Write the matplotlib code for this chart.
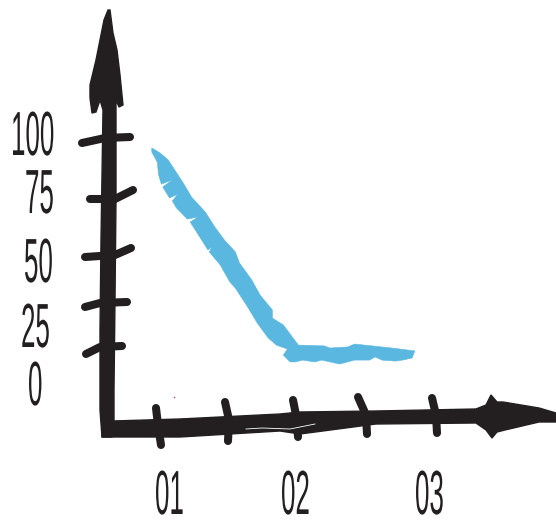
# hand drawn line chart, sketchy axes and stretched narrow labels
import matplotlib
matplotlib.use('Agg')
import matplotlib.pyplot as plt
import matplotlib.patheffects as pe
from matplotlib.transforms import Affine2D

INK = '#231f20'
BLUE = '#5ab8e0'

# ===== DATA =====
y_labels = ['100', '75', '50', '25', '0']
x_labels = ['01', '02', '03']

upper_x = [0.94, 1.00, 1.06, 1.17, 1.23, 1.33, 1.40, 1.47, 1.55, 1.58, 1.67,
           1.73, 1.82, 1.82, 1.90, 2.01, 2.20, 2.24, 2.37, 2.42, 2.69, 2.86]
upper_y = [96.2, 93.8, 90.4, 79.3, 72.6, 65.4, 58.2, 51.9, 46.2, 40.9, 32.7,
           25.5, 18.3, 14.4, 11.1, 1.4, 1.0, 0.0, 0.5, 1.9, 0.0, -1.4]
lower_x = [0.94, 0.98, 0.99, 1.01, 1.09, 1.02, 1.07, 1.13, 1.09, 1.12, 1.20, 1.28,
           1.22, 1.29, 1.35, 1.38, 1.36, 1.39, 1.44, 1.51, 1.55, 1.64, 1.71, 1.79,
           1.85, 1.93, 1.90, 1.95, 1.99, 2.04, 2.13, 2.18, 2.31, 2.42, 2.53, 2.57,
           2.62, 2.72, 2.77, 2.84]
lower_y = [94.2, 89.4, 83.2, 78.8, 80.8, 77.4, 72.1, 74.0, 70.7, 67.3, 62.0, 63.0,
           60.6, 53.4, 47.1, 48.6, 46.2, 43.8, 39.9, 31.7, 28.8, 19.7, 12.0, 4.8,
           1.4, -0.5, -3.4, -6.7, -6.7, -5.8, -6.7, -5.8, -7.7, -5.8, -5.8, -4.3,
           -5.8, -6.3, -5.8, -4.8]


class Stretch(pe.AbstractPathEffect):
    """Scale the glyph outlines so the text looks tall and condensed"""
    def __init__(self, sx, sy):
        super().__init__()
        self.sx, self.sy = sx, sy

    def draw_path(self, renderer, gc, tpath, affine, rgbFace=None):
        renderer.draw_path(gc, tpath, Affine2D().scale(self.sx, self.sy) + affine, rgbFace)


fig = plt.figure(figsize=(5.56, 5.2), dpi=100)
ax = fig.add_axes([0, 0, 1, 1])
ax.set_xlim(-0.1679, 3.8905)
ax.set_ylim(-82.69, 167.31)
ax.axis('off')

# picture pixels, for the hand drawn bits
px = Affine2D().scale(1, -1).translate(0, 520)

# series
ax.fill(upper_x + lower_x[::-1], upper_y + lower_y[::-1], color=BLUE, lw=0.4, zorder=2)

# y axis with arrow head
ax.fill([108, 104, 101, 96, 90, 90, 92, 96, 100, 103, 101, 100, 100, 102, 112,
         114, 114, 115, 116, 116, 119, 123, 120, 117, 113, 110],
        [10, 20, 35, 60, 85, 98, 113, 112, 100, 110, 240, 330, 410, 437, 437,
         420, 390, 300, 200, 100, 107, 105, 75, 50, 33, 10],
        color=INK, lw=1, transform=px, zorder=3)

# x axis with arrow head
ax.fill([102, 112, 180, 280, 300, 376, 476, 486, 491, 497, 503, 539, 556,
         556, 539, 505, 497, 492, 486, 476, 376, 300, 280, 180, 102],
        [419, 421, 419, 414, 412, 411, 409, 405, 395, 402, 402, 408, 413,
         422, 422, 430, 432, 438, 430, 423, 424, 434, 431, 437, 437],
        color=INK, lw=1, transform=px, zorder=3)
ax.plot([246, 262, 290, 315], [429, 428, 429, 424], color='white', lw=0.6, transform=px, zorder=4)

# hand drawn ticks, slightly bent
y_ticks = [[(82, 143), (105, 138), (130, 137)], [(90, 199), (115, 199), (133, 190)],
           [(85, 257), (115, 255), (131, 248)], [(85, 307), (100, 303), (127, 302)],
           [(86, 354), (100, 347), (122, 346)]]
x_ticks = [[(156, 408), (158, 425), (161, 445)], [(225, 402), (229, 420), (228, 441)],
           [(293, 400), (297, 420), (298, 437)], [(358, 397), (366, 415), (367, 434)],
           [(432, 398), (436, 415), (437, 433)]]
for tick in y_ticks + x_ticks:
    ax.plot([p[0] for p in tick], [p[1] for p in tick], color=INK, lw=5.8,
            solid_capstyle='round', solid_joinstyle='round', transform=px, zorder=3)

# labels, left and baseline in picture pixels
y_label_pos = [(11, 155), (25, 213), (24, 282), (21, 347), (28, 405)]
x_label_pos = [(155, 514), (281, 514), (415, 514)]
for txt, pos in zip(y_labels + x_labels, y_label_pos + x_label_pos):
    ax.text(pos[0], pos[1], txt, transform=px, ha='left', va='baseline', color=INK,
            family=['Liberation Sans Narrow', 'Liberation Sans'], fontsize=18.7,
            path_effects=[Stretch(1.0, 2.4)], zorder=5)

# stray speck near the x axis
ax.plot([174], [397], marker='o', ms=1.2, color='#e8407f', mew=0, transform=px)

fig.savefig('out.png', dpi=100)
